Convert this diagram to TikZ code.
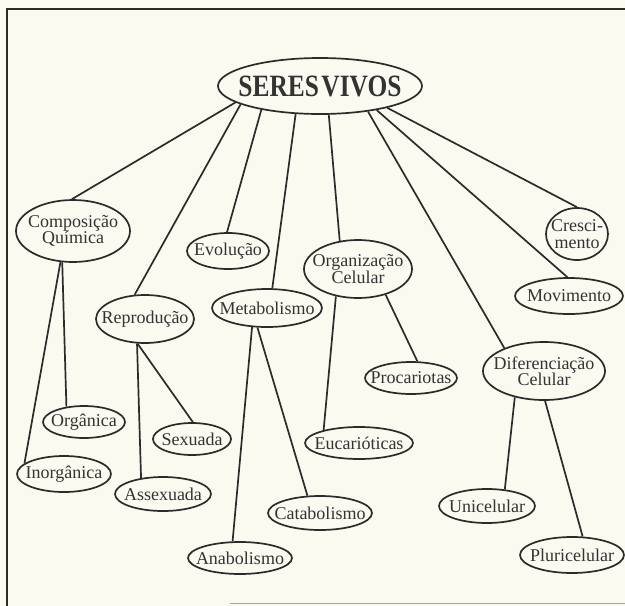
\documentclass[tikz,border=0pt]{standalone}
\usepackage{fontspec}
\setmainfont{Liberation Serif}
\usepackage{graphicx}
\usetikzlibrary{shapes.geometric}
\definecolor{paper}{HTML}{FBFAF1}
\definecolor{ink}{HTML}{2B2B2B}
\definecolor{txtc}{HTML}{333333}
\tikzset{
  ell/.style={draw=ink, ellipse, line width=1.7pt, inner sep=0pt},
  lbl/.style={font=\fontsize{18}{16.5}\selectfont, text=txtc, align=center, inner sep=0pt},
  conn/.style={draw=ink, line width=1.7pt},
}
\newcommand{\ellnode}[6]{\node[ell, minimum width=#4pt, minimum height=#5pt, label={[lbl]center:#6}] (#1) at (#2,#3) {};}
\begin{document}
\begin{tikzpicture}[x=1pt,y=-1pt]
\fill[paper] (0,0) rectangle (625,606);
\useasboundingbox (0,0) rectangle (625,606);
\draw[ink, line width=1.6pt] (7,606) -- (7,9) -- (625,9);
\draw[black!35, line width=1pt] (230,603) -- (625,603);

\node[ell, minimum width=204pt, minimum height=56pt,
  label={[lbl]center:\scalebox{0.82}[1]{\fontsize{31}{31}\selectfont\bfseries SERES\hspace{3pt}VIVOS}}] (seres) at (320,86) {};

\ellnode{comp}{73}{231}{114}{62}{Composição\\Química}
\ellnode{evo}{228}{251}{82}{36}{Evolução}
\ellnode{repro}{145}{319}{98}{48}{Reprodução}
\ellnode{meta}{267}{308}{110}{38}{Metabolismo}
\ellnode{org}{358}{269}{108}{58}{Organização\\Celular}
\ellnode{cres}{577}{234}{62}{52}{Cresci-\\mento}
\ellnode{mov}{569}{296}{108}{36}{Movimento}
\ellnode{proc}{411}{378}{92}{32}{Procariotas}
\ellnode{diff}{544}{371}{122}{58}{Diferenciação\\Celular}
\ellnode{orga}{84}{422}{82}{32}{Orgânica}
\ellnode{inorg}{64}{474}{94}{36}{Inorgânica}
\ellnode{sex}{192}{439}{78}{32}{Sexuada}
\ellnode{assex}{163}{494}{96}{34}{Assexuada}
\ellnode{ana}{240}{558}{104}{32}{Anabolismo}
\ellnode{cata}{320}{513}{104}{34}{Catabolismo}
\ellnode{euca}{359}{443}{108}{32}{Eucarióticas}
\ellnode{uni}{487}{506}{96}{34}{Unicelular}
\ellnode{pluri}{572}{555}{104}{36}{Pluricelular}

\draw[conn] (seres.191.1) -- (comp.92);
\draw[conn] (seres.193.8) -- (repro.113);
\draw[conn] (seres.202.1) -- (evo.93);
\draw[conn] (seres.229.9) -- (meta.75);
\draw[conn] (seres.287.9) -- (org.123.4);
\draw[conn] (seres.332.1) -- (diff.150.2);
\draw[conn] (seres.337.9) -- (mov.95);
\draw[conn] (seres.342.9) -- (cres.90);

\draw[conn] (comp.251.8) -- (orga.139.4);
\draw[conn] (comp.248.4) -- (inorg.165.6);
\draw[conn] (repro.253.5) -- (sex.87);
\draw[conn] (repro.252) -- (assex.144);
\draw[conn] (meta.232.7) -- (ana.114);
\draw[conn] (meta.244.4) -- (cata.126);
\draw[conn] (org.317.1) -- (proc.69.3);
\draw[conn] (org.231.8) -- (euca.160);
\draw[conn] (diff.222.6) -- (uni.43.1);
\draw[conn] (diff.272) -- (pluri.60.5);
\end{tikzpicture}
\end{document}
